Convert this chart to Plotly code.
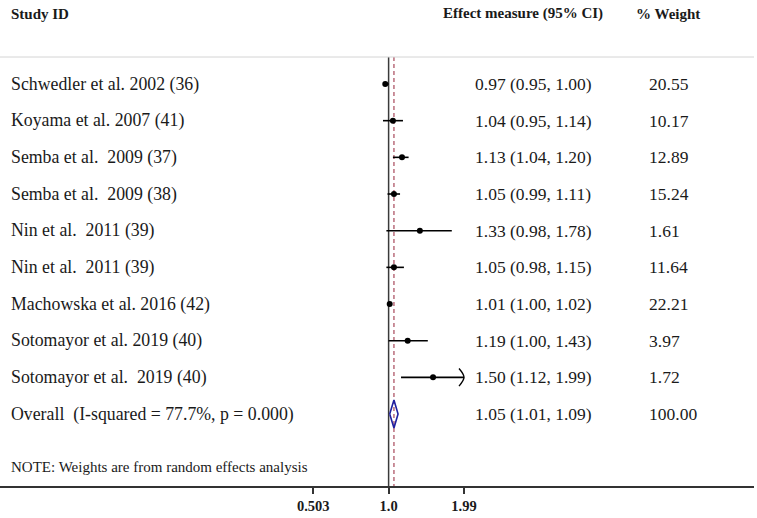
import numpy as np
import plotly.graph_objects as go

# study rows, top to bottom
studies = ["Schwedler et al. 2002 (36)", "Koyama et al. 2007 (41)", "Semba et al.  2009 (37)",
           "Semba et al.  2009 (38)", "Nin et al.  2011 (39)", "Nin et al.  2011 (39)",
           "Machowska et al. 2016 (42)", "Sotomayor et al. 2019 (40)", "Sotomayor et al.  2019 (40)"]
est = [0.97, 1.04, 1.13, 1.05, 1.33, 1.05, 1.01, 1.19, 1.50]
lo = [0.95, 0.95, 1.04, 0.99, 0.98, 0.98, 1.00, 1.00, 1.12]
hi = [1.00, 1.14, 1.20, 1.11, 1.78, 1.15, 1.02, 1.43, 1.99]
weights = ["20.55", "10.17", "12.89", "15.24", "1.61", "11.64", "22.21", "3.97", "1.72"]

overall_label = "Overall  (I-squared = 77.7%, p = 0.000)"
overall = (1.05, 1.01, 1.09)
overall_weight = "100.00"
note = "NOTE: Weights are from random effects analysis"

tick_vals = [0.503, 1.0, 1.99]
tick_text = ["0.503", "1.0", "1.99"]
clip_hi = 1.99  # upper display limit, CIs reaching it get an arrow

SERIF = "Liberation Serif, Times New Roman, serif"
W, H = 757, 518
PW = 754  # plot width in px (margin r=3)

rows = list(range(len(studies)))
r_overall = len(studies)
top_line = -0.736
y_bottom = 10.963

fig = go.Figure()

# reference line at 1 and dashed overall line
fig.add_trace(go.Scatter(x=[1, 1], y=[top_line, y_bottom], mode="lines",
                         line=dict(color="#3a3a3a", width=1.5), hoverinfo="skip"))
fig.add_trace(go.Scatter(x=[overall[0], overall[0]], y=[top_line, y_bottom], mode="lines",
                         line=dict(color="#a8485a", width=1.2, dash="4px,3px"), hoverinfo="skip"))

# confidence intervals
for r, l, h in zip(rows, lo, hi):
    fig.add_trace(go.Scatter(x=[l, h], y=[r, r], mode="lines",
                             line=dict(color="black", width=1.6), hoverinfo="skip"))
    if h >= clip_hi:
        back = h * np.exp(-5 / 109.6)
        fig.add_trace(go.Scatter(x=[back, h, back], y=[r - 0.24, r, r + 0.24], mode="lines",
                                 line=dict(color="black", width=1.4, shape="spline"),
                                 hoverinfo="skip"))

# point estimates
fig.add_trace(go.Scatter(x=est, y=rows, mode="markers",
                         marker=dict(color="black", size=6), hoverinfo="skip"))

# overall diamond
o, ol, oh = overall
fig.add_trace(go.Scatter(x=[ol, o, oh, o, ol], y=[r_overall, r_overall - 0.38, r_overall,
                                                   r_overall + 0.38, r_overall],
                         mode="lines", line=dict(color="#2020a0", width=1.6), hoverinfo="skip"))

ann = []
def txt(xpx, y, s, size=17.5, bold=False):
    ann.append(dict(x=xpx / PW, y=y, xref="paper", yref="y", text=f"<b>{s}</b>" if bold else s,
                    showarrow=False, xanchor="left", yanchor="middle",
                    font=dict(family=SERIF, size=size, color="#1a1a1a")))

# headers
txt(9, -1.91, "Study ID", 15, True)
txt(441, -1.91, "Effect measure (95% CI)", 15, True)
txt(634, -1.91, "% Weight", 15, True)

for r, s, e, l, h, w in zip(rows, studies, est, lo, hi, weights):
    txt(9, r, s, 17.8)
    txt(473, r, f"{e:.2f} ({l:.2f}, {h:.2f})")
    txt(647, r, w)

txt(9, r_overall, overall_label, 17.8)
txt(473, r_overall, f"{o:.2f} ({ol:.2f}, {oh:.2f})")
txt(647, r_overall, overall_weight)
txt(9, 10.44, note, 15)

fig.update_layout(
    width=W, height=H,
    margin=dict(l=0, r=W - PW, t=0, b=32),
    paper_bgcolor="white", plot_bgcolor="white",
    showlegend=False,
    annotations=ann,
    shapes=[dict(type="line", xref="paper", yref="y", x0=0, x1=1, y0=top_line, y1=top_line,
                 line=dict(color="#d4d4d4", width=1))],
    xaxis=dict(type="log", range=[-1.540, 1.448], showgrid=False, zeroline=False,
               showline=True, linecolor="#333333", linewidth=1.5,
               ticks="outside", ticklen=6, tickcolor="#333333", tickwidth=1.5,
               tickvals=tick_vals, ticktext=[f"<b>{t}</b>" for t in tick_text],
               tickfont=dict(family=SERIF, size=14.5, color="#1a1a1a")),
    yaxis=dict(range=[y_bottom, -2.291], visible=False, showgrid=False, zeroline=False),
)

# page body has a default 8px margin; drop it so the figure sits at the corner
fig.write_html("out.html", config={"displayModeBar": False},
               post_script="document.body.style.margin='0';")
